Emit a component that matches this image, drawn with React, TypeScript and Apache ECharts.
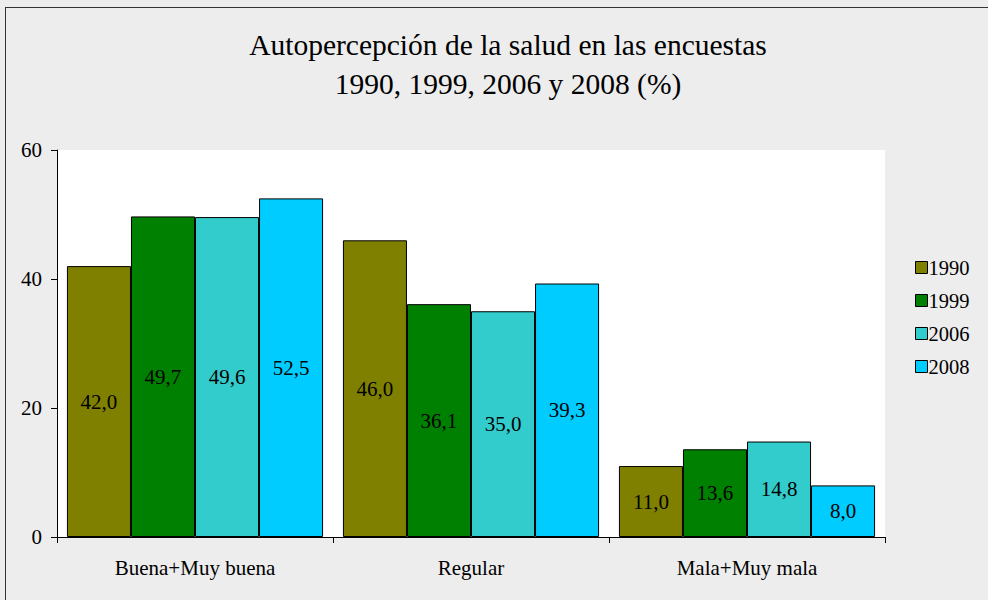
import React, { useEffect, useRef } from "react";
import * as echarts from "echarts";

const categories = ["Buena+Muy buena", "Regular", "Mala+Muy mala"];
const seriesNames = ["1990", "1999", "2006", "2008"];
const values1990 = [42.0, 46.0, 11.0];
const values1999 = [49.7, 36.1, 13.6];
const values2006 = [49.6, 35.0, 14.8];
const values2008 = [52.5, 39.3, 8.0];
const colors = ["#808000", "#008000", "#33CCCC", "#00CCFF"];
const titleLines = ["Autopercepción de la salud en las encuestas", "1990, 1999, 2006 y 2008 (%)"];

const FONT = "Liberation Serif";

export default function App() {
  const ref = useRef<HTMLDivElement>(null);
  useEffect(() => {
    if (!ref.current) return;
    const chart = echarts.init(ref.current, null, { renderer: "svg" });
    const allValues = [values1990, values1999, values2006, values2008];
    chart.setOption({
      animation: false,
      backgroundColor: "#ededed",
      textStyle: { fontFamily: FONT, color: "#000" },
      title: {
        text: titleLines.join("\n"),
        left: 503,
        top: 20,
        textAlign: "center",
        textStyle: { fontFamily: FONT, fontSize: 29.5, fontWeight: "normal", color: "#000", lineHeight: 39 },
      },
      legend: {
        orient: "vertical",
        left: 910,
        top: 252,
        itemWidth: 12,
        itemHeight: 12,
        itemGap: 12,
        icon: "rect",
        data: seriesNames,
        itemStyle: { borderColor: "#000", borderWidth: 1 },
        textStyle: { fontFamily: FONT, fontSize: 20.5, lineHeight: 20, color: "#000", padding: [0, 0, 0, -4] },
      },
      graphic: [
        { type: "line", shape: { x1: 5.5, y1: 7, x2: 5.5, y2: 600 }, style: { stroke: "#333", lineWidth: 1 } },
        { type: "line", shape: { x1: 5, y1: 7.5, x2: 988, y2: 7.5 }, style: { stroke: "#333", lineWidth: 1 } },
      ],
      grid: { left: 57, right: 103, top: 150, bottom: 63, backgroundColor: "#fff", show: true, borderWidth: 0 },
      xAxis: {
        type: "category",
        data: categories,
        axisLine: { lineStyle: { color: "#000", width: 1 } },
        axisTick: { show: true, length: 6, lineStyle: { color: "#000" } },
        axisLabel: { fontFamily: FONT, fontSize: 21, color: "#000", margin: 20 },
      },
      yAxis: {
        type: "value",
        min: 0,
        max: 60,
        interval: 20,
        splitLine: { show: false },
        axisLine: { show: true, lineStyle: { color: "#000", width: 1 } },
        axisTick: { show: true, length: 6, lineStyle: { color: "#000" } },
        axisLabel: { fontFamily: FONT, fontSize: 21, color: "#000", margin: 15 },
      },
      series: seriesNames.map((name, i) => ({
        name,
        type: "bar",
        data: allValues[i],
        barGap: "0%",
        barCategoryGap: "7.2%",
        itemStyle: { color: colors[i], borderColor: "#000", borderWidth: 1 },
        label: {
          show: true,
          position: "inside",
          fontFamily: FONT,
          fontSize: 21,
          color: "#000",
          formatter: (p: any) => p.value.toFixed(1).replace(".", ","),
        },
      })),
    });
    return () => chart.dispose();
  }, []);
  return <div ref={ref} style={{ position: "fixed", left: 0, top: 0, width: 988, height: 600 }} />;
}
